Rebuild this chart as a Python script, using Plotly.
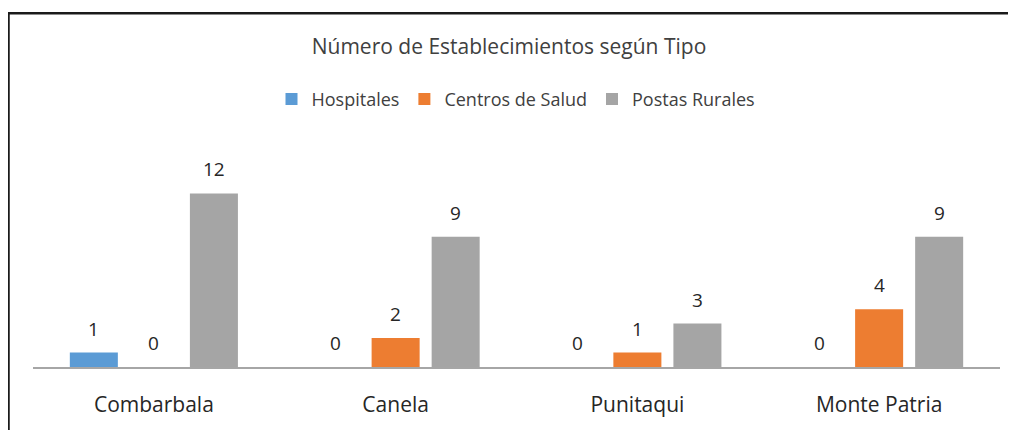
import plotly.graph_objects as go

categories = ["Combarbala", "Canela", "Punitaqui", "Monte Patria"]
hospitales = [1, 0, 0, 0]
centros_salud = [0, 2, 1, 4]
postas_rurales = [12, 9, 3, 9]

series = [
    ("Hospitales", hospitales, "#5B9BD5"),
    ("Centros de Salud", centros_salud, "#ED7D31"),
    ("Postas Rurales", postas_rurales, "#A5A5A5"),
]

FONT = "Open Sans"
OFF = 8  # page body margin of the browser
W, H = 1016 - OFF, 430 - OFF
L, R, T, B = 33 - OFF, 16, 152 - OFF, 58
pw, ph = W - L - R, H - T - B
ymax = ph / 14.8

def px_x(p):  # screen pixel -> paper x
    return (p - OFF - L) / pw

def px_y(p):  # screen pixel -> paper y
    return (H - B - (p - OFF)) / ph

fig = go.Figure()
annotations = []
for i, (name, vals, color) in enumerate(series):
    fig.add_trace(go.Bar(
        x=categories, y=vals, name=name,
        marker=dict(color=color, line=dict(width=0)),
    ))
    for c, v in zip(categories, vals):
        annotations.append(dict(
            x=c, y=v, xref="x", yref="y", text=str(v), showarrow=False,
            xshift=(i - 1) * 60, yshift=24, yanchor="middle",
            font=dict(family=FONT, size=19, color="#262626"),
        ))

fig.update_layout(
    width=W, height=H,
    margin=dict(l=L, r=R, t=T, b=B),
    paper_bgcolor="white", plot_bgcolor="white",
    barmode="group", bargap=0.255, bargroupgap=0.2,
    title=dict(text="Número de Establecimientos según Tipo", x=px_x(509), xanchor="center",
               xref="paper",
               y=1 - (47 - OFF) / H, yanchor="middle",
               font=dict(family=FONT, size=21, color="#404040")),
    legend=dict(orientation="h", x=px_x(516), xanchor="center", y=px_y(98), yanchor="middle",
                font=dict(family=FONT, size=18, color="#404040"),
                itemwidth=30, traceorder="normal"),
    xaxis=dict(showgrid=False, showline=True, linecolor="#A6A6A6", linewidth=1.5,
               ticks="", ticklabelstandoff=18,
               tickfont=dict(family=FONT, size=21, color="#262626")),
    yaxis=dict(visible=False, range=[0, ymax], fixedrange=True),
    annotations=annotations,
    shapes=[
        dict(type="line", xref="paper", yref="paper",
             x0=px_x(7), x1=px_x(1030), y0=px_y(10), y1=px_y(10),
             line=dict(color="#1A1A1A", width=2.5)),
        dict(type="line", xref="paper", yref="paper",
             x0=px_x(8.5), x1=px_x(8.5), y0=px_y(10), y1=px_y(450),
             line=dict(color="#1A1A1A", width=2.5)),
    ],
)

fig.write_html("out.html")
